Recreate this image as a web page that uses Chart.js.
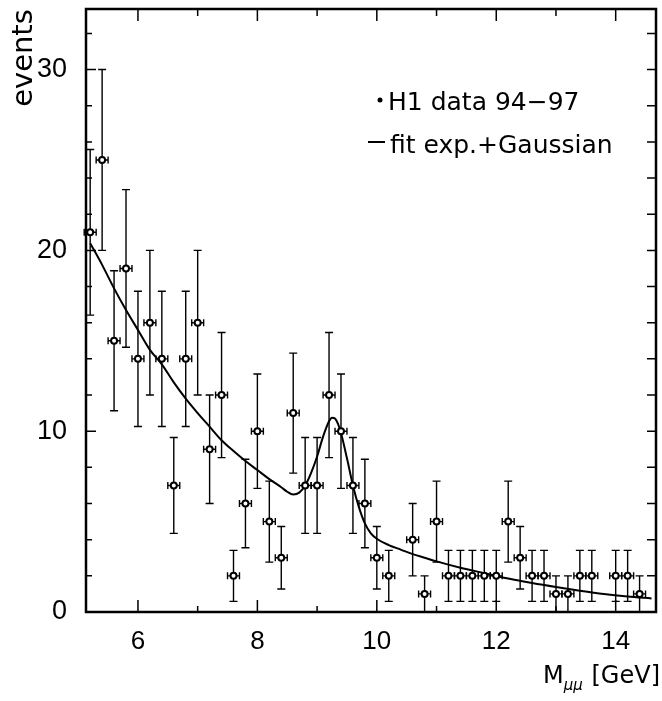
<!DOCTYPE html>
<html>
<head>
<meta charset="utf-8">
<script src="https://cdn.jsdelivr.net/npm/chart.js@4.4.0/dist/chart.umd.min.js"></script>
<style>
  html, body { margin: 0; padding: 0; background: #fff; }
  #wrap { width: 662px; height: 701px; }
</style>
</head>
<body>
<div id="wrap"><canvas id="chartUpsilon"></canvas></div>
<script>
// H1 data 94-97, bins of 0.2 GeV (empty bins 10.4 and 13.8 not shown)
const massBins = [5.2, 5.4, 5.6, 5.8, 6.0, 6.2, 6.4, 6.6, 6.8, 7.0, 7.2, 7.4, 7.6, 7.8, 8.0, 8.2, 8.4, 8.6, 8.8, 9.0,
  9.2, 9.4, 9.6, 9.8, 10.0, 10.2, 10.6, 10.8, 11.0, 11.2, 11.4, 11.6, 11.8, 12.0, 12.2, 12.4, 12.6, 12.8, 13.0, 13.2,
  13.4, 13.6, 14.0, 14.2, 14.4];
const events = [21, 25, 15, 19, 14, 16, 14, 7, 14, 16, 9, 12, 2, 6, 10, 5, 3, 11, 7, 7,
  12, 10, 7, 6, 3, 2, 4, 1, 5, 2, 2, 2, 2, 2, 5, 3, 2, 2, 1, 1,
  2, 2, 2, 2, 1];
const eventErr = [4.58, 5.0, 3.87, 4.36, 3.74, 4.0, 3.74, 2.65, 3.74, 4.0, 3.0, 3.46, 1.41, 2.45, 3.16, 2.24, 1.73, 3.32, 2.65, 2.65,
  3.46, 3.16, 2.65, 2.45, 1.73, 1.41, 2.0, 1.0, 2.24, 1.41, 1.41, 1.41, 1.41, 1.41, 2.24, 1.73, 1.41, 1.41, 1.0, 1.0,
  1.41, 1.41, 1.41, 1.41, 1.0];
const binHalfWidth = 0.1;

// fit exp.+Gaussian
const fitMass = [5.2, 5.4, 5.6, 5.8, 6.0, 6.2, 6.4, 6.6, 6.8, 7.0, 7.2, 7.4, 7.6, 7.8, 8.0, 8.2, 8.4, 8.5, 8.6, 8.7,
  8.8, 8.9, 9.0, 9.1, 9.2, 9.25, 9.3, 9.35, 9.4, 9.5, 9.6, 9.7, 9.8, 9.9, 10.0, 10.2, 10.4, 10.6, 10.8, 11.0,
  11.4, 11.8, 12.2, 12.6, 13.0, 13.4, 13.8, 14.2, 14.6];
const fitEvents = [20.4, 19.2, 17.9, 16.7, 15.6, 14.5, 13.7, 12.7, 11.8, 11.0, 10.25, 9.5, 8.9, 8.35, 7.85, 7.35, 6.9, 6.65, 6.5, 6.6,
  7.0, 7.7, 8.6, 9.7, 10.55, 10.75, 10.7, 10.4, 9.9, 8.5, 7.0, 5.8, 4.9, 4.35, 4.05, 3.7, 3.45, 3.2, 3.0, 2.8,
  2.45, 2.15, 1.85, 1.6, 1.38, 1.18, 1.0, 0.86, 0.75];

const xTickLabels = [6, 8, 10, 12, 14];
const yTickLabels = [0, 10, 20, 30];

const errorBars = {
  id: "errorBars",
  beforeDatasetsDraw(chart) {
    const { ctx, scales: { x, y } } = chart;
    ctx.save();
    ctx.strokeStyle = "#000";
    ctx.lineWidth = 1.4;
    massBins.forEach((m, i) => {
      const px = x.getPixelForValue(m);
      const py = y.getPixelForValue(events[i]);
      const top = y.getPixelForValue(events[i] + eventErr[i]);
      const lo = Math.max(events[i] - eventErr[i], 0);
      const bot = y.getPixelForValue(lo);
      const left = x.getPixelForValue(m - binHalfWidth);
      const right = x.getPixelForValue(m + binHalfWidth);
      ctx.beginPath();
      ctx.moveTo(px, top); ctx.lineTo(px, bot);
      ctx.moveTo(px - 4, top); ctx.lineTo(px + 4, top);
      if (lo > 0) { ctx.moveTo(px - 4, bot); ctx.lineTo(px + 4, bot); }
      ctx.moveTo(left, py); ctx.lineTo(right, py);
      ctx.moveTo(left, py - 3.5); ctx.lineTo(left, py + 3.5);
      ctx.moveTo(right, py - 3.5); ctx.lineTo(right, py + 3.5);
      ctx.stroke();
    });
    ctx.restore();
  },
};

const frameAndText = {
  id: "frameAndText",
  afterDraw(chart) {
    const { ctx, chartArea: a, scales: { x, y } } = chart;
    ctx.save();
    ctx.strokeStyle = "#000";
    ctx.fillStyle = "#000";
    // inward ticks
    ctx.lineWidth = 1.5;
    ctx.beginPath();
    for (let v = 0; v <= y.max; v += 2) {
      const py = y.getPixelForValue(v);
      const len = v % 10 === 0 ? 10 : 6;
      ctx.moveTo(a.left, py); ctx.lineTo(a.left + len, py);
      ctx.moveTo(a.right, py); ctx.lineTo(a.right - 9, py);
    }
    for (let v = 6; v <= x.max; v += 1) {
      const px = x.getPixelForValue(v);
      const len = v % 2 === 0 ? 12 : 6;
      ctx.moveTo(px, a.bottom); ctx.lineTo(px, a.bottom - len);
      ctx.moveTo(px, a.top); ctx.lineTo(px, a.top + (v % 2 === 0 ? 12 : 7));
    }
    ctx.stroke();
    // frame
    ctx.lineWidth = 2.5;
    ctx.strokeRect(a.left, a.top, a.right - a.left, a.bottom - a.top);

    // y title
    ctx.font = "29px 'DejaVu Sans'";
    ctx.save();
    ctx.translate(32, 58);
    ctx.rotate(-Math.PI / 2);
    ctx.textAlign = "center";
    ctx.textBaseline = "alphabetic";
    ctx.fillText("events", 0, 0);
    ctx.restore();

    // x title
    ctx.textBaseline = "alphabetic";
    ctx.textAlign = "left";
    ctx.font = "24px 'DejaVu Sans'";
    ctx.fillText("M", 543, 683);
    const mw = ctx.measureText("M").width;
    ctx.font = "italic 15px 'DejaVu Sans'";
    ctx.fillText("μμ", 543 + mw, 690);
    ctx.font = "24px 'DejaVu Sans'";
    ctx.textAlign = "right";
    ctx.fillText("[GeV]", 660, 683);

    // legend
    ctx.font = "25px 'DejaVu Sans'";
    ctx.textAlign = "left";
    ctx.beginPath();
    ctx.arc(380, 100, 2.5, 0, Math.PI * 2);
    ctx.fill();
    ctx.fillText("H1 data 94\u221297", 388, 110);
    ctx.lineWidth = 2;
    ctx.beginPath();
    ctx.moveTo(368, 142); ctx.lineTo(385, 142);
    ctx.stroke();
    ctx.fillText("fit exp.+Gaussian", 390, 153);
    ctx.restore();
  },
};

Chart.defaults.font.family = "'Liberation Sans', Arial, sans-serif";
Chart.defaults.color = "#000";

new Chart(document.querySelector("#chartUpsilon"), {
  type: "scatter",
  data: {
    datasets: [
      {
        label: "H1 data 94-97",
        data: massBins.map((m, i) => ({ x: m, y: events[i] })),
        pointRadius: 3,
        pointBackgroundColor: "#fff",
        pointBorderColor: "#000",
        pointBorderWidth: 2,
        showLine: false,
      },
      {
        type: "line",
        label: "fit exp.+Gaussian",
        data: fitMass.map((m, i) => ({ x: m, y: fitEvents[i] })),
        borderColor: "#000",
        borderWidth: 2,
        pointRadius: 0,
        fill: false,
        cubicInterpolationMode: "monotone",
      },
    ],
  },
  options: {
    responsive: true,
    maintainAspectRatio: false,
    animation: false,
    layout: { padding: { top: 9, right: 1, left: 0, bottom: 0 } },
    scales: {
      x: {
        type: "linear",
        min: 5.13,
        max: 14.675,
        grid: { display: false },
        border: { display: false },
        ticks: { font: { size: 26 }, padding: 6, maxRotation: 0 },
        afterBuildTicks: (s) => { s.ticks = xTickLabels.map((v) => ({ value: v })); },
        afterFit: (s) => { s.height = 89; s.paddingLeft = 0; s.paddingRight = 0; },
      },
      y: {
        type: "linear",
        min: 0,
        max: 33.35,
        grid: { display: false },
        border: { display: false },
        ticks: { font: { size: 27 }, padding: 11 },
        afterBuildTicks: (s) => { s.ticks = yTickLabels.map((v) => ({ value: v })); },
        afterFit: (s) => { s.width = 86; s.paddingTop = 0; s.paddingBottom = 0; },
      },
    },
    plugins: {
      legend: { display: false },
      tooltip: { enabled: false },
    },
  },
  plugins: [errorBars, frameAndText],
});
</script>
</body>
</html>
